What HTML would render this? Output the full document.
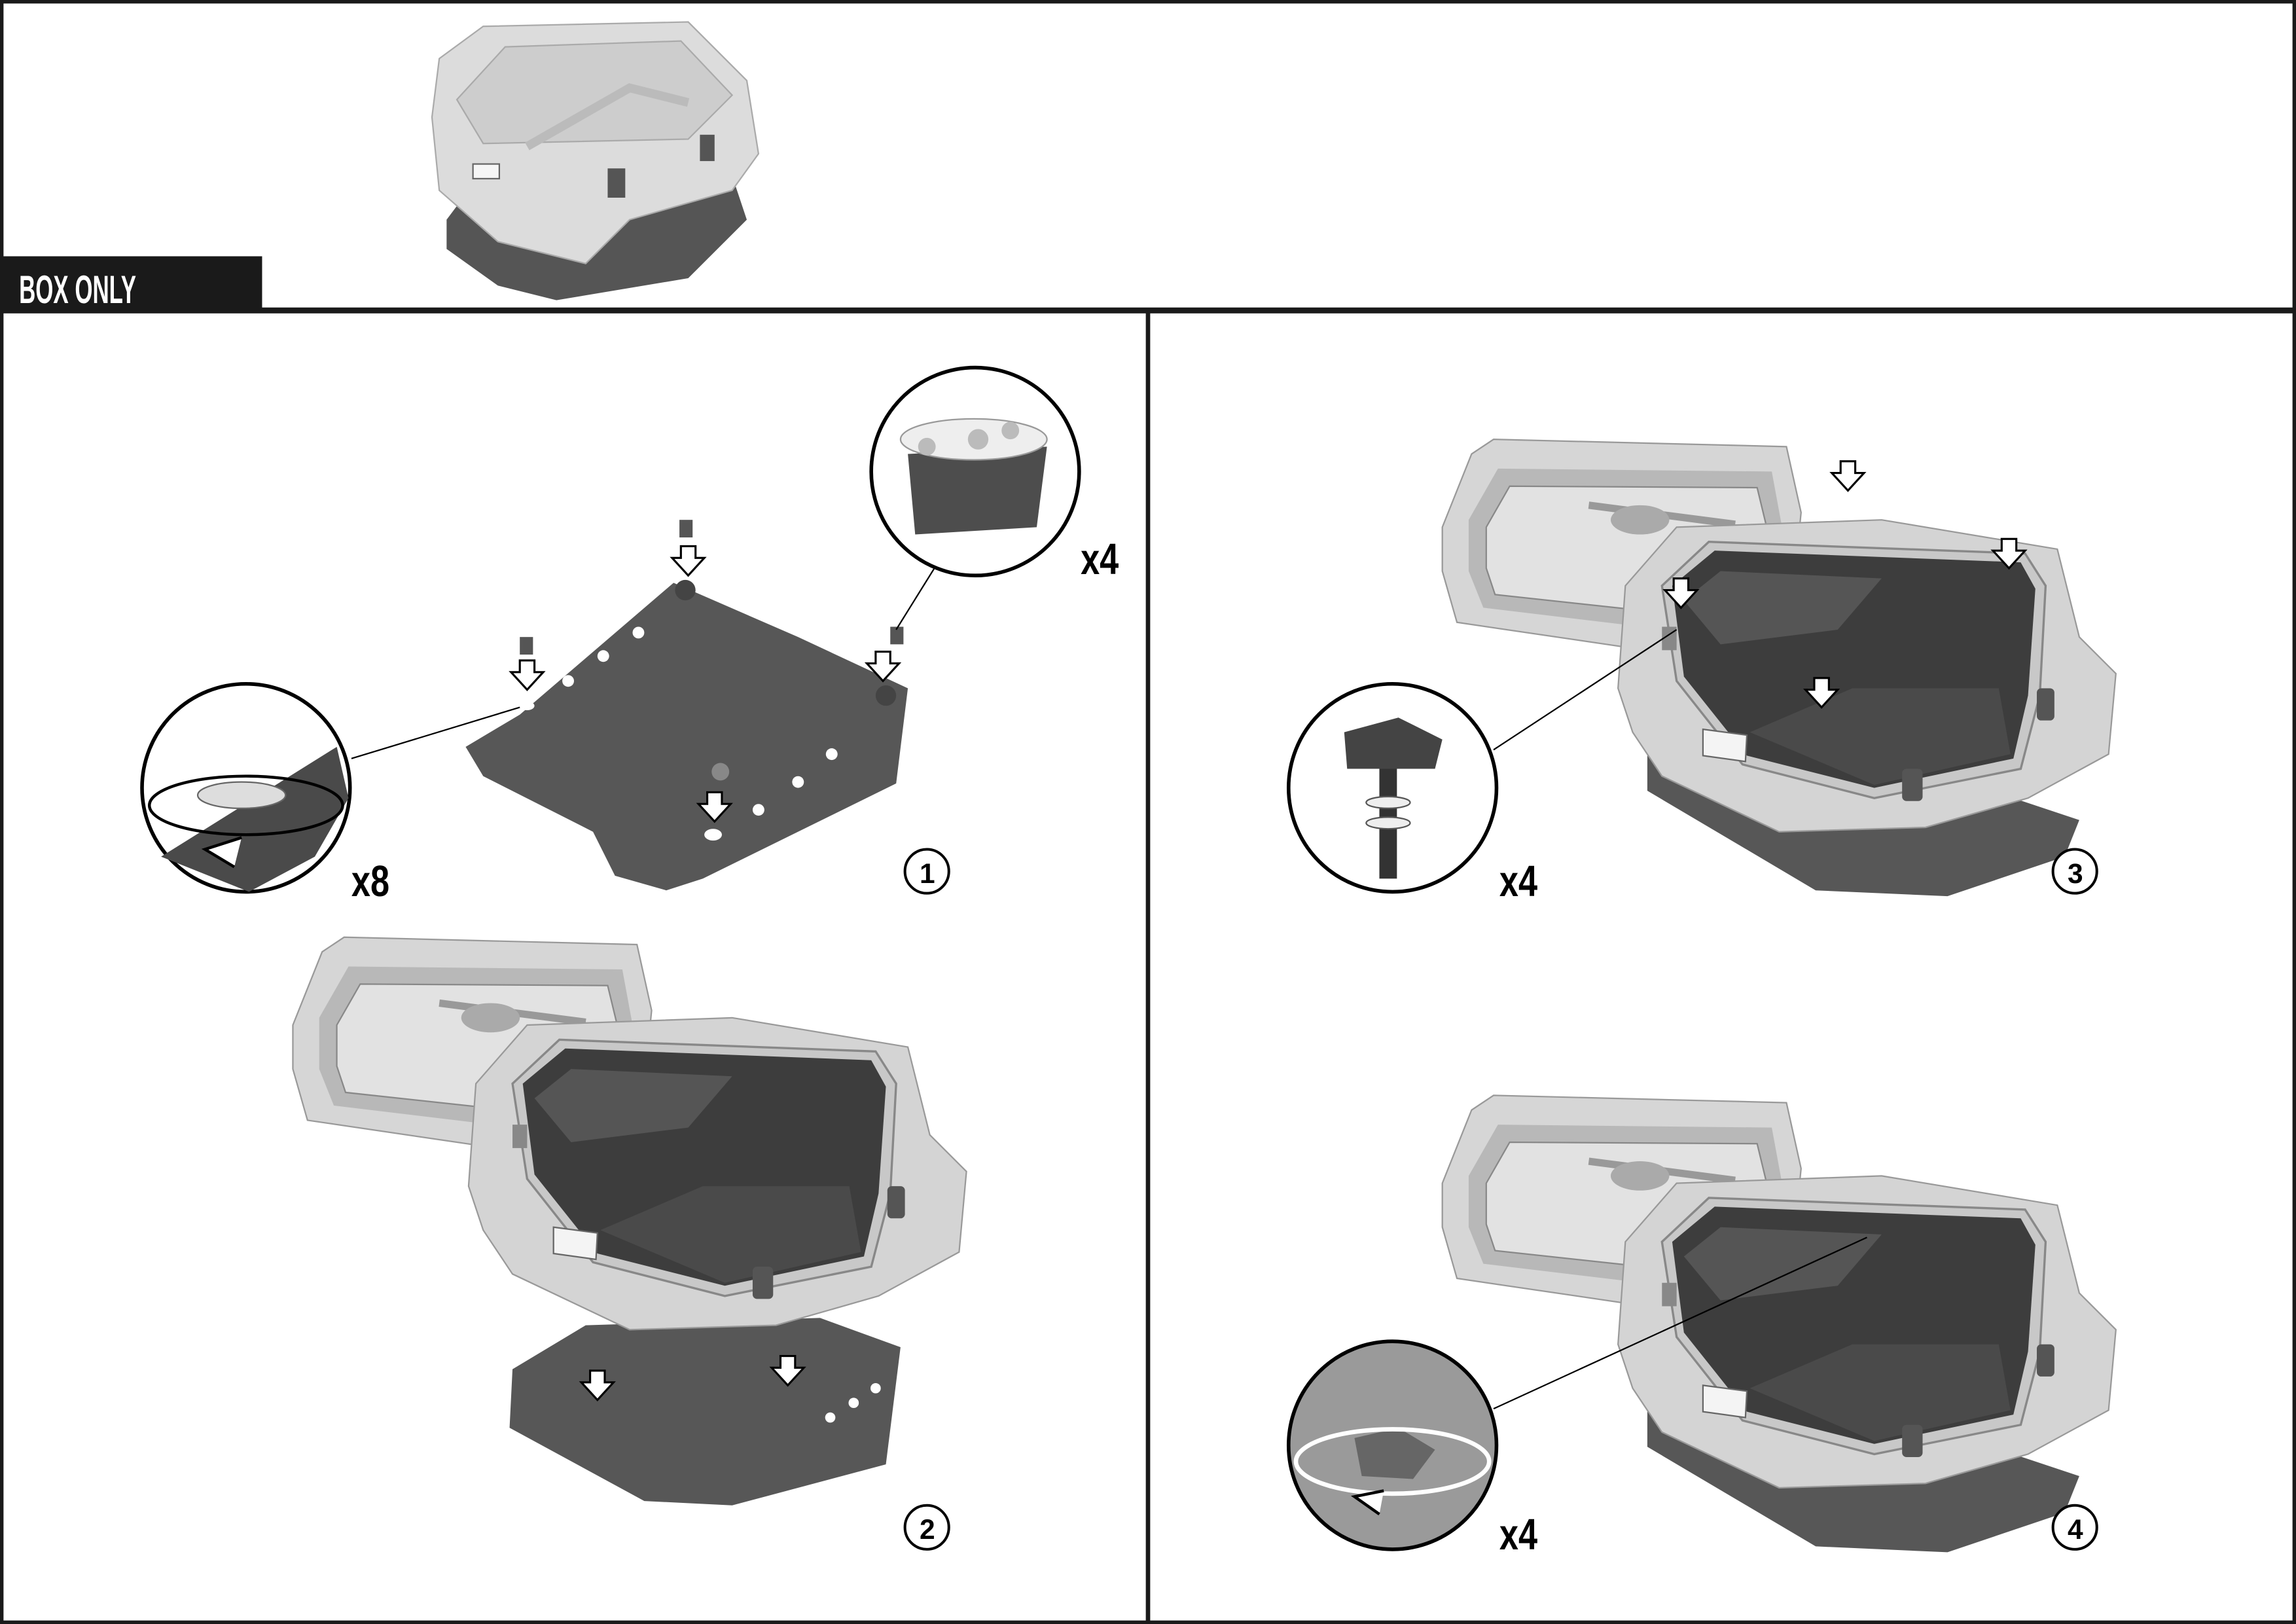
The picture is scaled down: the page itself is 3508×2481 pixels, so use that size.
<!DOCTYPE html>
<html><head><meta charset="utf-8"><style>
html,body{margin:0;padding:0;background:#fff}
svg{display:block}
text{font-family:"Liberation Sans",sans-serif;font-weight:bold}
</style></head><body>
<svg width="3508" height="2481" viewBox="0 0 1568 1109" preserveAspectRatio="none" xmlns="http://www.w3.org/2000/svg">
<defs>
<g id="arrow"><path d="M-5,-12 h10 v8 h6 l-11,12 l-11,-12 h6 z" fill="#fff" stroke="#000" stroke-width="1.4"/></g>
<g id="openbox">
 <!-- lid -->
 <path d="M0,60 L20,10 L35,0 L235,5 L245,50 L240,100 L180,150 L10,125 L0,90 Z" fill="#d6d6d6" stroke="#999"/>
 <path d="M18,55 L38,20 L225,22 L232,60 L226,95 L170,132 L28,115 L18,90 Z" fill="#b8b8b8"/>
 <path d="M30,60 L46,32 L215,33 L222,62 L215,92 L165,120 L36,106 L30,88 Z" fill="#e2e2e2" stroke="#888"/>
 <path d="M100,45 L200,58" stroke="#999" stroke-width="5"/>
 <ellipse cx="135" cy="55" rx="20" ry="10" fill="#aaa"/>
 <ellipse cx="180" cy="75" rx="16" ry="9" fill="#aaa"/>
 <!-- body -->
 <path d="M125,100 L160,60 L300,55 L420,75 L435,135 L460,160 L455,215 L400,245 L330,265 L230,268 L150,230 L130,200 L120,170 Z" fill="#d4d4d4" stroke="#999"/>
 <path d="M150,100 L182,70 L398,78 L412,100 L408,175 L395,225 L295,245 L205,222 L160,165 Z" fill="#c8c8c8" stroke="#888" stroke-width="1.5"/>
 <path d="M157,100 L186,76 L395,84 L405,102 L400,175 L390,218 L295,238 L208,216 L165,162 Z" fill="#3d3d3d"/>
 <path d="M165,110 L190,90 L300,95 L270,130 L190,140 Z" fill="#555"/>
 <path d="M210,200 L280,170 L380,170 L388,215 L295,236 Z" fill="#4a4a4a"/>
 <path d="M178,198 L208,202 L207,220 L178,216 Z" fill="#f4f4f4" stroke="#666"/>
 <rect x="314" y="225" width="14" height="22" rx="3" fill="#555"/>
 <rect x="406" y="170" width="12" height="22" rx="3" fill="#555"/>
 <rect x="150" y="128" width="10" height="16" fill="#888"/>
</g>
</defs>
<rect x="1.2" y="1.2" width="1565.6" height="1106.6" fill="none" stroke="#1a1a1a" stroke-width="2.4"/>
<line x1="0" y1="212" x2="1568" y2="212" stroke="#1a1a1a" stroke-width="4"/>
<line x1="784" y1="212" x2="784" y2="1109" stroke="#1a1a1a" stroke-width="3"/>
<rect x="0" y="175" width="179" height="38" fill="#1a1a1a"/>
<text x="13" y="207" font-size="27" fill="#fff" textLength="80" lengthAdjust="spacingAndGlyphs">BOX ONLY</text>

<!-- top box -->
<path d="M305,150 L320,130 L500,120 L510,150 L470,190 L380,205 L340,195 L305,170 Z" fill="#555"/>
<path d="M295,80 L300,40 L330,18 L470,15 L510,55 L518,105 L500,130 L430,150 L400,180 L340,165 L300,130 Z" fill="#dcdcdc" stroke="#aaa"/>
<path d="M312,68 L345,32 L465,28 L500,65 L470,95 L330,98 Z" fill="#cdcdcd" stroke="#aaa"/>
<path d="M360,100 L430,60 L470,70" stroke="#bbb" stroke-width="6" fill="none"/>
<rect x="323" y="112" width="18" height="10" fill="#f6f6f6" stroke="#666"/>
<rect x="415" y="115" width="12" height="20" fill="#555"/>
<rect x="478" y="92" width="10" height="18" fill="#555"/>

<!-- panel 1 plate -->
<path d="M318,510 L355,488 L460,398 L545,435 L620,470 L612,535 L480,600 L455,608 L420,598 L405,568 L330,530 Z" fill="#575757"/>
<g fill="#fff">
<circle cx="388" cy="465" r="4"/><circle cx="412" cy="448" r="4"/><circle cx="436" cy="432" r="4"/>
<circle cx="518" cy="553" r="4"/><circle cx="545" cy="534" r="4"/><circle cx="568" cy="515" r="4"/>
<ellipse cx="487" cy="570" rx="6" ry="4"/><ellipse cx="360" cy="482" rx="5" ry="3"/>
</g>
<circle cx="468" cy="403" r="7" fill="#444"/><circle cx="605" cy="475" r="7" fill="#444"/><circle cx="492" cy="527" r="6" fill="#888"/>
<use href="#arrow" x="470" y="385"/><use href="#arrow" x="603" y="457"/><use href="#arrow" x="360" y="463"/><use href="#arrow" x="488" y="553"/>
<rect x="464" y="355" width="9" height="12" fill="#555"/><rect x="355" y="435" width="9" height="12" fill="#555"/><rect x="608" y="428" width="9" height="12" fill="#555"/>
<line x1="240" y1="518" x2="355" y2="483" stroke="#000" stroke-width="1"/>
<line x1="640" y1="385" x2="612" y2="430" stroke="#000" stroke-width="1"/>
<!-- circle left -->
<circle cx="168" cy="538" r="71" fill="#fff" stroke="#000" stroke-width="2.5"/>
<path d="M110,585 L230,510 L238,545 L215,585 L170,609 Z" fill="#4a4a4a"/>
<ellipse cx="165" cy="543" rx="30" ry="9" fill="#ddd" stroke="#666"/>
<ellipse cx="168" cy="550" rx="66" ry="20" fill="none" stroke="#000" stroke-width="2"/>
<path d="M165,572 L140,580 L160,592" fill="#fff" stroke="#000" stroke-width="2"/>
<!-- circle right -->
<circle cx="666" cy="322" r="71" fill="#fff" stroke="#000" stroke-width="2.5"/>
<path d="M620,310 L715,305 L708,360 L625,365 Z" fill="#4d4d4d"/>
<ellipse cx="665" cy="300" rx="50" ry="14" fill="#eee" stroke="#999"/>
<circle cx="668" cy="300" r="7" fill="#bbb"/><circle cx="633" cy="305" r="6" fill="#bbb"/><circle cx="690" cy="294" r="6" fill="#bbb"/>
<text x="738" y="392" font-size="30" textLength="26" lengthAdjust="spacingAndGlyphs">x4</text>
<text x="240" y="612" font-size="30" textLength="26" lengthAdjust="spacingAndGlyphs">x8</text>
<circle cx="633" cy="595" r="15" fill="#fff" stroke="#000" stroke-width="1.8"/><text x="628" y="603" font-size="19" font-weight="normal">1</text>

<!-- panel 2 -->
<path d="M350,935 L400,905 L560,900 L615,920 L605,1000 L500,1028 L440,1025 L348,975 Z" fill="#575757"/>
<use href="#arrow" x="408" y="948"/><use href="#arrow" x="538" y="938"/>
<g fill="#fff"><circle cx="567" cy="968" r="3.5"/><circle cx="583" cy="958" r="3.5"/><circle cx="598" cy="948" r="3.5"/></g>
<use href="#openbox" x="200" y="640"/>
<circle cx="633" cy="1043" r="15" fill="#fff" stroke="#000" stroke-width="1.8"/><text x="628" y="1051" font-size="19" font-weight="normal">2</text>

<!-- panel 3 -->
<path d="M1125,505 L1300,520 L1420,560 L1410,585 L1330,612 L1240,608 L1125,540 Z" fill="#575757"/>
<use href="#openbox" x="985" y="300"/>
<use href="#arrow" x="1262" y="327"/><use href="#arrow" x="1372" y="380"/><use href="#arrow" x="1148" y="407"/><use href="#arrow" x="1244" y="475"/>
<line x1="1020" y1="512" x2="1145" y2="430" stroke="#000" stroke-width="1"/>
<circle cx="951" cy="538" r="71" fill="#fff" stroke="#000" stroke-width="2.5"/>
<path d="M918,500 L955,490 L985,505 L980,525 L920,525 Z" fill="#444"/>
<rect x="942" y="525" width="12" height="75" fill="#333"/>
<ellipse cx="948" cy="548" rx="15" ry="4" fill="#eee" stroke="#555"/>
<ellipse cx="948" cy="562" rx="15" ry="4" fill="#eee" stroke="#555"/>
<text x="1024" y="612" font-size="30" textLength="26" lengthAdjust="spacingAndGlyphs">x4</text>
<circle cx="1417" cy="595" r="15" fill="#fff" stroke="#000" stroke-width="1.8"/><text x="1412" y="603" font-size="19" font-weight="normal">3</text>

<!-- panel 4 -->
<path d="M1125,953 L1300,968 L1420,1008 L1410,1033 L1330,1060 L1240,1056 L1125,988 Z" fill="#575757"/>
<use href="#openbox" x="985" y="748"/>
<line x1="1020" y1="962" x2="1275" y2="845" stroke="#000" stroke-width="1"/>
<circle cx="951" cy="987" r="71" fill="#9a9a9a" stroke="#000" stroke-width="2.5"/>
<path d="M925,982 L955,975 L980,990 L965,1010 L930,1008 Z" fill="#666"/>
<ellipse cx="951" cy="998" rx="66" ry="22" fill="none" stroke="#fff" stroke-width="3"/>
<path d="M945,1018 L925,1022 L942,1034" fill="#fff" stroke="#000" stroke-width="2"/>
<text x="1024" y="1058" font-size="30" textLength="26" lengthAdjust="spacingAndGlyphs">x4</text>
<circle cx="1417" cy="1043" r="15" fill="#fff" stroke="#000" stroke-width="1.8"/><text x="1412" y="1051" font-size="19" font-weight="normal">4</text>
</svg>
</body></html>
